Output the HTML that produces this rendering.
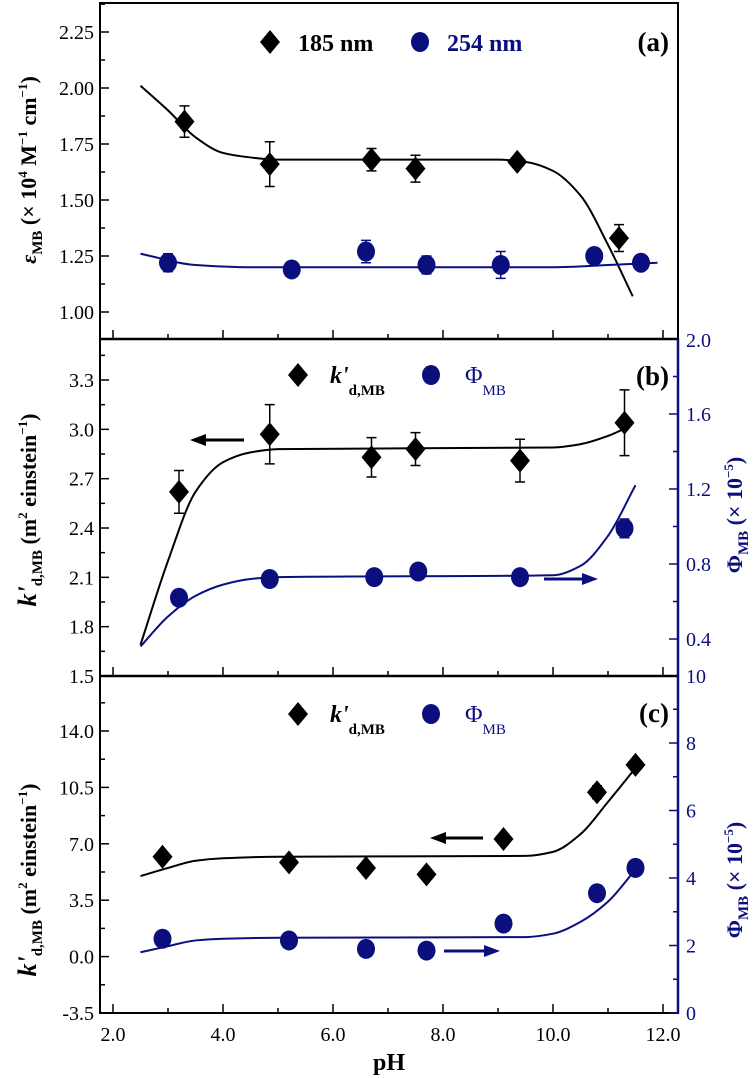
<!DOCTYPE html>
<html><head><meta charset="utf-8"><style>
html,body{margin:0;padding:0;background:#fff}
svg{display:block;font-family:"Liberation Serif",serif}
</style></head><body>
<svg id="c" width="755" height="1078" viewBox="0 0 755 1078" xmlns="http://www.w3.org/2000/svg"></svg>
<script>
// ---- data ----
const phA185 = [3.3, 4.85, 6.7, 7.5, 9.35, 11.2];
const epsA185 = [1.85, 1.66, 1.68, 1.64, 1.67, 1.33];
const errA185 = [0.07, 0.10, 0.05, 0.06, 0.02, 0.06];
const phA254 = [3.0, 5.25, 6.6, 7.7, 9.05, 10.75, 11.6];
const epsA254 = [1.22, 1.19, 1.27, 1.21, 1.21, 1.25, 1.22];
const errA254 = [0.04, 0, 0.05, 0.04, 0.06, 0.03, 0];
const fitA185x = [2.5, 3.0, 3.5, 4.0, 4.5, 5.0, 9.0, 9.5, 10.0, 10.5, 11.0, 11.45];
const fitA185y = [2.01, 1.90, 1.78, 1.71, 1.69, 1.68, 1.68, 1.67, 1.63, 1.52, 1.30, 1.07];
const fitA254x = [2.5, 3.5, 4.5, 10.0, 11.0, 11.9];
const fitA254y = [1.26, 1.21, 1.20, 1.20, 1.21, 1.22];

const phBk = [3.2, 4.85, 6.7, 7.5, 9.4, 11.3];
const kB = [2.62, 2.97, 2.83, 2.88, 2.81, 3.04];
const errKB = [0.13, 0.18, 0.12, 0.10, 0.13, 0.20];
const phBphi = [3.2, 4.85, 6.75, 7.55, 9.4, 11.3];
const phiB = [0.62, 0.72, 0.73, 0.76, 0.73, 0.99];
const errPhiB = [0, 0, 0, 0, 0, 0.05];
const fitBkx = [2.5, 3.0, 3.5, 4.0, 4.5, 5.0, 10.0, 10.5, 11.0, 11.4];
const fitBky = [1.69, 2.20, 2.62, 2.80, 2.86, 2.88, 2.89, 2.91, 2.96, 3.02];
const fitBpx = [2.5, 3.0, 3.5, 4.0, 4.5, 5.0, 10.0, 10.5, 11.0, 11.5];
const fitBpy = [0.36, 0.52, 0.63, 0.69, 0.72, 0.73, 0.74, 0.79, 0.95, 1.22];

const phC = [2.9, 5.2, 6.6, 7.7, 9.1, 10.8, 11.5];
const kC = [6.2, 5.85, 5.5, 5.1, 7.3, 10.2, 11.9];
const errKC = [0, 0, 0, 0, 0, 0.4, 0];
const phiC = [2.2, 2.15, 1.9, 1.85, 2.65, 3.55, 4.3];
const fitCkx = [2.5, 3.0, 3.5, 4.0, 5.0, 9.5, 10.0, 10.5, 11.0, 11.5];
const fitCky = [5.0, 5.5, 5.95, 6.1, 6.2, 6.25, 6.5, 7.6, 9.6, 11.7];
const fitCpx = [2.5, 3.0, 3.5, 4.0, 5.0, 9.5, 10.0, 10.5, 11.0, 11.5];
const fitCpy = [1.8, 1.98, 2.15, 2.2, 2.23, 2.25, 2.35, 2.7, 3.3, 4.25];

const ticksA = ["1.00","1.25","1.50","1.75","2.00","2.25"];
const ticksBL = ["1.5","1.8","2.1","2.4","2.7","3.0","3.3"];
const ticksCL = ["-3.5","0.0","3.5","7.0","10.5","14.0"];
const ticksX = ["2.0","4.0","6.0","8.0","10.0","12.0"];

// ---- scales ----
const NAVY = "#0b0f7e";
const L = 100, R = 678;
const X = v => 113 + (v - 2) * 55;
const yA = v => 312 - (v - 1.0) / 0.25 * 56;
const yBL = v => 676 - (v - 1.5) / 0.3 * 49.33;
const yBR = v => 639 - (v - 0.4) / 0.4 * 75;
const yCL = v => 1013 - (v + 3.5) / 3.5 * 56.4;
const yCR = v => 1013 - v / 2 * 67.5;

const svg = document.getElementById('c');
const NS = "http://www.w3.org/2000/svg";
function mk(tag, at, parent) {
  const e = document.createElementNS(NS, tag);
  for (const k in at) e.setAttribute(k, at[k]);
  (parent || svg).appendChild(e);
  return e;
}
function txt(s, x, y, size, anchor, fill, weight, name) {
  const t = mk('text', {x: x, y: y, 'font-size': size, 'text-anchor': anchor || 'start', fill: fill || '#000', 'font-weight': weight || 'normal'});
  t.textContent = s;
  
  
  return t;
}
// monotone cubic (Fritsch-Carlson) interpolation
function smooth(xs, ys, sy, name, color) {
  const px = xs.map(X), py = ys.map(sy);
  const n = px.length, d = [], m = [];
  for (let i = 0; i < n - 1; i++) d.push((py[i + 1] - py[i]) / (px[i + 1] - px[i]));
  m[0] = d[0]; m[n - 1] = d[n - 2];
  for (let i = 1; i < n - 1; i++) {
    if (d[i - 1] * d[i] <= 0) m[i] = 0;
    else {
      const w1 = 2 * (px[i + 1] - px[i]) + (px[i] - px[i - 1]);
      const w2 = (px[i + 1] - px[i]) + 2 * (px[i] - px[i - 1]);
      m[i] = (w1 + w2) / (w1 / d[i - 1] + w2 / d[i]);
    }
  }
  let path = "M" + px[0] + "," + py[0];
  for (let i = 0; i < n - 1; i++) {
    const h = px[i + 1] - px[i];
    path += "C" + (px[i] + h / 3) + "," + (py[i] + m[i] * h / 3) + " " + (px[i + 1] - h / 3) + "," + (py[i + 1] - m[i + 1] * h / 3) + " " + px[i + 1] + "," + py[i + 1];
  }
  const e = mk('path', {d: path, fill: 'none', stroke: color, 'stroke-width': 2});
  
  
}
function errbar(x, y1, y2, color) {
  const g = mk('path', {d: `M${x},${y1}V${y2}M${x-5},${y1}H${x+5}M${x-5},${y2}H${x+5}`, stroke: color, 'stroke-width': 1.5, fill: 'none'});
  
  
}
function diamond(cx, cy, name) {
  const e = mk('path', {d: `M${cx},${cy-12}L${cx+10},${cy}L${cx},${cy+12}L${cx-10},${cy}Z`, fill: '#000'});
  
  
}
function circle(cx, cy, name) {
  const e = mk('ellipse', {cx: cx, cy: cy, rx: 9, ry: 10, fill: NAVY});
  
  
}
function arrow(x1, x2, y, color, name) {
  const dir = x2 > x1 ? 1 : -1;
  const g = mk('g', {});
  
  
  mk('line', {x1: x1, y1: y, x2: x2 - dir * 12, y2: y, stroke: color, 'stroke-width': 3}, g);
  mk('path', {d: `M${x2},${y}L${x2 - dir * 16},${y - 6}L${x2 - dir * 16},${y + 6}Z`, fill: color}, g);
}
function line(x1, y1, x2, y2, color, w, name) {
  const e = mk('line', {x1: x1, y1: y1, x2: x2, y2: y2, stroke: color, 'stroke-width': w});
  
  
}
function xTicks(yb) {
  for (let v = 2; v <= 12.001; v += 1) {
    const len = Math.round(v) % 2 === 0 ? 9 : 5;
    line(X(v), yb, X(v), yb - len, '#000', 1.5, 'x-tick');
  }
}
function leftTicks(sy, labels, step) {
  labels.forEach(s => {
    const v = parseFloat(s);
    line(L, sy(v), L + 9, sy(v), '#000', 1.5, 'y-tick');
    txt(s, L - 6, sy(v) + 7, 20, 'end', '#000', 'normal', 'y-tick-label');
    const m = sy(v + step / 2);
    line(L, m, L + 5, m, '#000', 1.5, 'y-minor-tick');
  });
}
function rightTicks(sy, vals, step, labels, color, top) {
  vals.forEach((v, i) => {
    line(R, sy(v), R - 9, sy(v), color, 1.5, 'y2-tick');
    txt(labels[i], R + 8, sy(v) + 7, 20, 'start', color, 'normal', 'y2-tick-label');
    const m = sy(v + step / 2);
    if (m > top) line(R, m, R - 5, m, color, 1.5, 'y2-minor-tick');
  });
}

// ---- frames ----
const fr = mk('rect', {x: L, y: 3, width: R - L, height: 1010, fill: 'none', stroke: '#000', 'stroke-width': 2});


line(L, 339, R, 339, '#000', 2.5, 'panel-divider-ab');
line(L, 676, R, 676, '#000', 2.5, 'panel-divider-bc');
line(R, 339, R, 1013, NAVY, 2.5, 'right-axis-bc');

// ---- panel a ----
xTicks(339);
leftTicks(yA, ticksA, 0.25);
line(L, yA(2.375), L + 5, yA(2.375), '#000', 1.5, 'y-minor-tick');
smooth(fitA185x, fitA185y, yA, 'fit-185nm', '#000');
smooth(fitA254x, fitA254y, yA, 'fit-254nm', NAVY);
phA185.forEach((p, i) => { if (errA185[i]) errbar(X(p), yA(epsA185[i] + errA185[i]), yA(epsA185[i] - errA185[i]), '#000'); diamond(X(p), yA(epsA185[i]), 'point-185nm'); });
phA254.forEach((p, i) => { if (errA254[i]) errbar(X(p), yA(epsA254[i] + errA254[i]), yA(epsA254[i] - errA254[i]), NAVY); circle(X(p), yA(epsA254[i]), 'point-254nm'); });
diamond(270, 42, 'legend-185nm-marker');
txt('185 nm', 298, 51, 24, 'start', '#000', 'bold', 'legend-185nm');
circle(420, 42, 'legend-254nm-marker');
txt('254 nm', 447, 51, 24, 'start', NAVY, 'bold', 'legend-254nm');
txt('(a)', 669, 51, 27, 'end', '#000', 'bold', 'panel-label-a');
const ta = txt('', 0, 0, 22, 'middle', '#000', 'bold', 'y-axis-title-a');
ta.setAttribute('transform', 'translate(36,170) rotate(-90)');
ta.innerHTML = '<tspan font-style="italic">ε</tspan><tspan font-size="15" dy="6">MB</tspan><tspan dy="-6"> (× 10</tspan><tspan font-size="13" dy="-9">4</tspan><tspan dy="9"> M</tspan><tspan font-size="13" dy="-9">−1</tspan><tspan dy="9"> cm</tspan><tspan font-size="13" dy="-9">−1</tspan><tspan dy="9">)</tspan>';
txt('2.0', R + 8, 347, 20, 'start', NAVY, 'normal', 'y2-tick-label');

// ---- panel b ----
xTicks(676);
leftTicks(yBL, ticksBL, 0.3);
rightTicks(yBR, [0.4, 0.8, 1.2, 1.6], 0.4, ["0.4","0.8","1.2","1.6"], NAVY, 339);
txt('10', R + 8, 683, 20, 'start', NAVY, 'normal', 'y2-tick-label');
smooth(fitBkx, fitBky, yBL, 'fit-k-b', '#000');
smooth(fitBpx, fitBpy, yBR, 'fit-phi-b', NAVY);
phBk.forEach((p, i) => { errbar(X(p), yBL(kB[i] + errKB[i]), yBL(kB[i] - errKB[i]), '#000'); diamond(X(p), yBL(kB[i]), 'point-k-b'); });
phBphi.forEach((p, i) => { if (errPhiB[i]) errbar(X(p), yBR(phiB[i] + errPhiB[i]), yBR(phiB[i] - errPhiB[i]), NAVY); circle(X(p), yBR(phiB[i]), 'point-phi-b'); });
arrow(244, 190, 440, '#000', 'arrow-left-b');
arrow(544, 598, 579, NAVY, 'arrow-right-b');
function legendK(y, nm) {
  diamond(298, y, 'legend-k-marker');
  const t = txt('', 330, y + 8, 24, 'start', '#000', 'bold', nm);
  t.innerHTML = '<tspan font-style="italic">k\'</tspan><tspan font-size="15" dy="12">d,MB</tspan>';
  circle(431, y, 'legend-phi-marker');
  const p = txt('', 465, y + 8, 24, 'start', NAVY, 'normal', nm + '-phi');
  p.innerHTML = 'Φ<tspan font-size="15" dy="12">MB</tspan>';
}
legendK(375, 'legend-k-b');
txt('(b)', 669, 385, 27, 'end', '#000', 'bold', 'panel-label-b');
function kTitle(cy, nm) {
  const t = txt('', 0, 0, 22, 'middle', '#000', 'bold', nm);
  t.setAttribute('transform', `translate(36,${cy}) rotate(-90)`);
  t.innerHTML = '<tspan font-style="italic" font-size="26">k\'</tspan><tspan font-size="15" dy="6">d,MB</tspan><tspan dy="-6"> (m</tspan><tspan font-size="13" dy="-9">2</tspan><tspan dy="9"> einstein</tspan><tspan font-size="13" dy="-9">−1</tspan><tspan dy="9">)</tspan>';
}
function phiTitle(cy, nm) {
  const t = txt('', 0, 0, 22, 'middle', NAVY, 'bold', nm);
  t.setAttribute('transform', `translate(742,${cy}) rotate(-90)`);
  t.innerHTML = 'Φ<tspan font-size="15" dy="6">MB</tspan><tspan dy="-6"> (× 10</tspan><tspan font-size="13" dy="-9">−5</tspan><tspan dy="9">)</tspan>';
}
kTitle(510, 'y-axis-title-b');
phiTitle(515, 'y2-axis-title-b');

// ---- panel c ----
xTicks(1013);
leftTicks(yCL, ticksCL, 3.5);
rightTicks(yCR, [0, 2, 4, 6, 8], 2, ["0","2","4","6","8"], NAVY, 676);
smooth(fitCkx, fitCky, yCL, 'fit-k-c', '#000');
smooth(fitCpx, fitCpy, yCR, 'fit-phi-c', NAVY);
phC.forEach((p, i) => { if (errKC[i]) errbar(X(p), yCL(kC[i] + errKC[i]), yCL(kC[i] - errKC[i]), '#000'); diamond(X(p), yCL(kC[i]), 'point-k-c'); });
phC.forEach((p, i) => circle(X(p), yCR(phiC[i]), 'point-phi-c'));
arrow(483, 430, 838, '#000', 'arrow-left-c');
arrow(444, 500, 951, NAVY, 'arrow-right-c');
legendK(714, 'legend-k-c');
txt('(c)', 669, 722, 27, 'end', '#000', 'bold', 'panel-label-c');
kTitle(880, 'y-axis-title-c');
phiTitle(880, 'y2-axis-title-c');
ticksX.forEach(s => txt(s, X(parseFloat(s)), 1041, 20, 'middle', '#000', 'normal', 'x-tick-label'));
txt('pH', 389, 1070, 24, 'middle', '#000', 'bold', 'x-axis-title');
</script>
</body></html>
